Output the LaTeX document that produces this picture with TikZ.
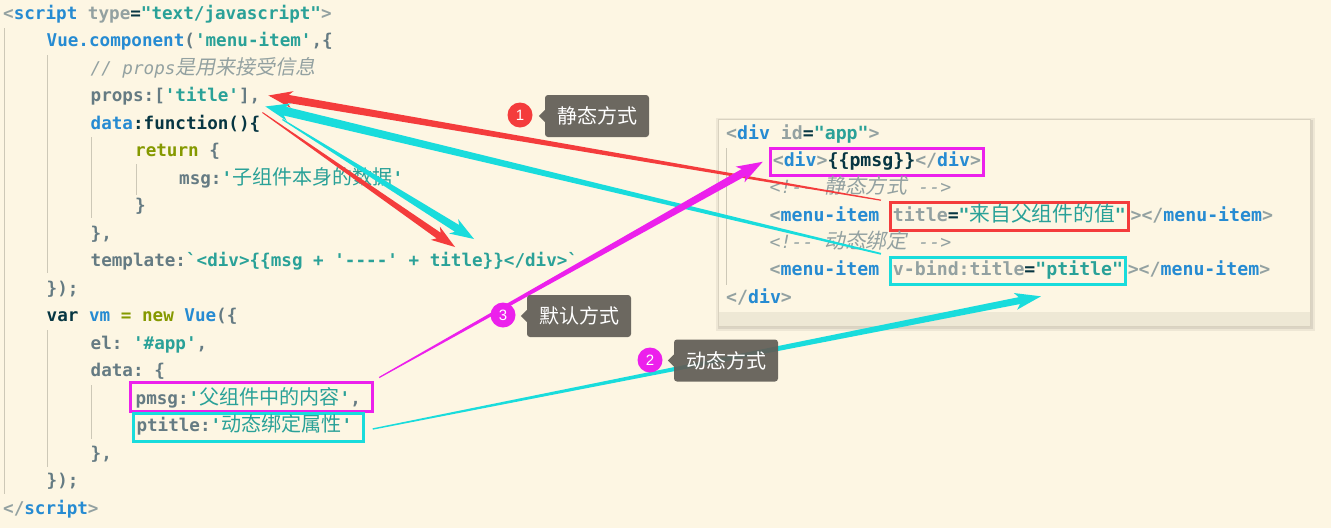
\documentclass[tikz,border=0pt]{standalone}
\usepackage{fontspec}
\setmonofont{DejaVu Sans Mono}
\newfontfamily\cjk[Scale=1.14]{Noto Sans CJK SC}
\newfontfamily\cjkit[Scale=1.14,FakeSlant=0.2]{Noto Sans CJK SC}
\newfontfamily\lblfont{Noto Sans CJK SC}
\newfontfamily\numfont{Liberation Sans}
\usetikzlibrary{calc}
\definecolor{bgc}{HTML}{FDF6E3}
\definecolor{cgray}{HTML}{93A1A1}
\definecolor{cblue}{HTML}{268BD2}
\definecolor{cstr}{HTML}{2AA198}
\definecolor{ctext}{HTML}{657B83}
\definecolor{cdark}{HTML}{073642}
\definecolor{cgreen}{HTML}{859900}
\definecolor{guide}{HTML}{CDC8B7}
\definecolor{ared}{HTML}{F43C3C}
\definecolor{acyan}{HTML}{19DCDC}
\definecolor{amag}{HTML}{EC20EC}
\definecolor{lblgray}{HTML}{625E57}
\definecolor{strip}{HTML}{EEE8D5}
\definecolor{pborder}{HTML}{D9D2C0}
\newcommand\cgr[1]{\textcolor{cgray}{#1}}
\newcommand\cbl[1]{\textcolor{cblue}{#1}}
\newcommand\cst[1]{\textcolor{cstr}{#1}}
\newcommand\cdk[1]{\textcolor{cdark}{#1}}
\newcommand\cgn[1]{\textcolor{cgreen}{#1}}
\newcommand\cmt[1]{{\mdseries\itshape\color{cgray}#1}}
\newcommand\zh[1]{{\cjk\mdseries #1}}
\newcommand\zhi[1]{{\cjkit\mdseries\upshape #1}}
% tapered arrow: colour, tail, tip, tail half-width, shaft half-width, barb half-width, head length
\newcommand\taper[7]{%
  \path ($(#3)!#7!(#2)$) coordinate (tb1) ($(#3)!#7+4pt!(#2)$) coordinate (tb2);
  \fill[#1] ($(#2)!#4!90:(#3)$) -- ($(tb1)!#5!90:(#3)$) -- ($(tb2)!#6!90:(#3)$) -- (#3)
    -- ($(tb2)!#6!-90:(#3)$) -- ($(tb1)!#5!-90:(#3)$) -- ($(#2)!#4!-90:(#3)$) -- cycle;}
\tikzset{
  code/.style={anchor=base west, inner sep=0pt, text=ctext,
    font=\ttfamily\bfseries\fontsize{17.6}{20}\selectfont},
  pcode/.style={code, font=\ttfamily\bfseries\fontsize{18.2}{21}\selectfont},
  lbox/.style={code, draw=#1, line width=3pt, inner ysep=2.5pt},
  pbox/.style={pcode, draw=#1, line width=3pt, inner xsep=2.5pt, inner ysep=2.5pt,
    text height=16pt, text depth=6.5pt},
  guideline/.style={draw=guide, line width=1pt},
  lbl/.style={fill=lblgray, fill opacity=0.93, text opacity=1, text=white,
    rounded corners=3pt, minimum width=104pt, minimum height=42pt, inner sep=0pt,
    font=\lblfont\fontsize{20}{24}\selectfont},
  badge/.style={circle, fill=#1, text=white, minimum size=25pt, inner sep=0pt,
    font=\numfont\fontsize{15}{18}\selectfont},
}
\begin{document}
\begin{tikzpicture}[x=1pt,y=-1pt]
\useasboundingbox (0,0) rectangle (1331,528);
\fill[bgc] (0,0) rectangle (1331,528);

% indent guides (left code)
\draw[guideline] (4,28) -- (4,494);
\draw[guideline] (47.3,55) -- (47.3,273);
\draw[guideline] (47.3,330) -- (47.3,467);
\draw[guideline] (91.7,137) -- (91.7,218);
\draw[guideline] (91.7,385) -- (91.7,439);
\draw[guideline] (136,164) -- (136,195);

% left code
\node[code] (l1) at (3,19) {\cgr{<}\cbl{script} \cgr{type}\cdk{=}\cst{"text/javascript"}\cgr{>}};
\node[code] (l2) at (46.5,46.5) {\cbl{Vue.component}(\cst{'menu-item'},\{};
\node[code] (l3) at (90.5,74) {\cmt{// props\zhi{是用来接受信息}}};
\node[code] (props) at (90.5,101.5) {props:[\cst{'title'}],};
\node[code] (l5) at (90.5,129) {\cbl{data}\cdk{:function()\{}};
\node[code] (l6) at (135,156.5) {\cgn{return} \{};
\node[code] (l7) at (179,184) {msg:\cst{'\zh{子组件本身的数据}'}};
\node[code] (l8) at (135,211.5) {\}};
\node[code] (l9) at (90.5,239) {\},};
\node[code] (tpl) at (90.5,266.5) {template:\cst{`<div>\{\{msg + '----' + title\}\}</div>`}};
\node[code] (l11) at (46.5,294) {\});};
\node[code] (l12) at (46.5,321.5) {\cdk{var} \cbl{vm} \cgn{=} \cgn{new} \cbl{Vue}(\{};
\node[code] (l13) at (90.5,349) {el: \cst{'\#app'},};
\node[code] (l14) at (90.5,376.5) {data: \{};
\node[lbox=amag, inner xsep=5pt, text height=19.5pt, text depth=4.5pt] (pm) at (129.2,404)
  {\makebox[232pt][l]{pmsg:\cst{'\zh{父组件中的内容}'},}};
\node[lbox=acyan, inner xsep=3.3pt, text height=16pt, text depth=7pt] (pt) at (131.7,431.5)
  {\makebox[223.4pt][l]{ptitle:\cst{'\zh{动态绑定属性}'}}};
\node[code] (l17) at (90.5,459) {\},};
\node[code] (l18) at (46.5,486.5) {\});};
\node[code] (l19) at (3,514) {\cgr{</}\cbl{script}\cgr{>}};

% right panel
\fill[black, opacity=0.06] (716,118) rectangle (1315,331);
\fill[black, opacity=0.08] (718,120) rectangle (1313,329);
\fill[bgc] (718,119) rectangle (1310,326);
\fill[strip] (718,312) rectangle (1310,326);
\draw[pborder, line width=0.8pt] (718,119) rectangle (1310,326);
\draw[guideline] (726.7,148) -- (726.7,285);

\node[pcode] (p1) at (726,139) {\cgr{<}\cbl{div} \cgr{id}\cdk{=}\cst{"app"}\cgr{>}};
\node[pbox=amag] (pd) at (768.8,166.5) {\cgr{<}\cbl{div}\cgr{>}\cdk{\{\{pmsg\}\}}\cgr{</}\cbl{div}\cgr{>}};
\node[pcode] (p3) at (769.5,193.8) {\cmt{<!-- \zhi{静态方式} -->}};
\node[pcode] (mi1) at (769.5,221.2) {\cgr{<}\cbl{menu-item}};
\node[pbox=ared] (rb) at ($(mi1.base east)+(9.5,0)$) {\cgr{title}\cdk{=}\cst{"\zh{来自父组件的值}"}};
\node[pcode] (rbe) at ($(rb.base east)+(0.5,0)$) {\cgr{></}\cbl{menu-item}\cgr{>}};
\node[pcode] (p5) at (769.5,248.5) {\cmt{<!-- \zhi{动态绑定} -->}};
\node[pcode] (mi2) at (769.5,275.8) {\cgr{<}\cbl{menu-item}};
\node[pbox=acyan] (vb) at ($(mi2.base east)+(9.5,0)$) {\cgr{v-bind:title}\cdk{=}\cst{"ptitle"}};
\node[pcode] (vbe) at ($(vb.base east)+(0.5,0)$) {\cgr{></}\cbl{menu-item}\cgr{>}};
\node[pcode] (p7) at (726,303) {\cgr{</}\cbl{div}\cgr{>}};

% arrow ends
\coordinate (r1t) at ($(rb.north west)+(-8,-1)$);
\coordinate (r1h) at ($(props.base east)+(8,-6)$);
\coordinate (c1t) at ($(vb.north west)+(-8,-2)$);
\coordinate (c1h) at ($(props.base east)+(5,5)$);
\coordinate (r2t) at ($(props.base east)+(2,11)$);
\coordinate (r2h) at ($(tpl.base west)+(364.5,-19.5)$);
\coordinate (c2t) at ($(props.base east)+(22,18)$);
\coordinate (c2h) at ($(tpl.base west)+(383.5,-27.5)$);
\coordinate (mt) at ($(pm.north east)+(5,-3)$);
\coordinate (mh) at ($(pd.west)+(-6,0)$);
\coordinate (c3t) at ($(pt.east)+(8,2)$);
\coordinate (c3h) at ($(vb.south west)+(152,10)$);

% arrows
\taper{ared}{r1t}{r1h}{0.6pt}{4pt}{8.5pt}{20pt}
\taper{acyan}{c1t}{c1h}{0.9pt}{4.5pt}{9pt}{20pt}
\taper{ared}{r2t}{r2h}{0.5pt}{3.5pt}{8pt}{20pt}
\taper{acyan}{c2t}{c2h}{0.6pt}{4pt}{8.5pt}{20pt}
\taper{amag}{mt}{mh}{0.6pt}{4pt}{9pt}{22pt}
\taper{acyan}{c3t}{c3h}{0.7pt}{3.5pt}{8.5pt}{22pt}

% labels and badges
\node[lbl] (l1b) at (597,116) {静态方式};
\fill[lblgray, fill opacity=0.93] ($(l1b.west)+(0,-6)$) -- ($(l1b.west)+(-6,0)$) -- ($(l1b.west)+(0,6)$) -- cycle;
\node[badge=ared] (b1) at (520,115) {1};
\node[lbl] (l3b) at (579,316) {默认方式};
\fill[lblgray, fill opacity=0.93] ($(l3b.west)+(0,-6)$) -- ($(l3b.west)+(-6,0)$) -- ($(l3b.west)+(0,6)$) -- cycle;
\node[badge=amag] (b3) at (503,315) {3};
\node[lbl] (l2b) at (726,360.5) {动态方式};
\fill[lblgray, fill opacity=0.93] ($(l2b.west)+(0,-6)$) -- ($(l2b.west)+(-6,0)$) -- ($(l2b.west)+(0,6)$) -- cycle;
\node[badge=amag] (b2) at (650,360) {2};
\end{tikzpicture}
\end{document}
